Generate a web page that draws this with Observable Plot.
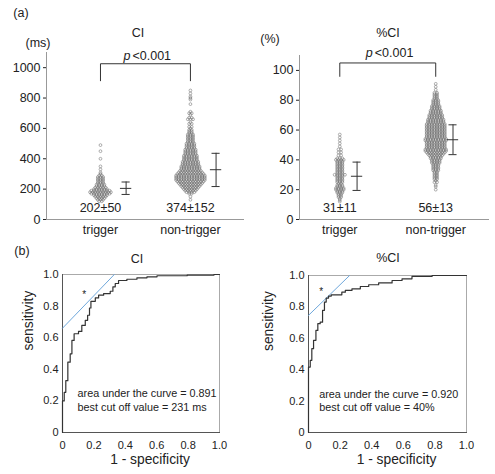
<!DOCTYPE html>
<html><head><meta charset="utf-8">
<script src="https://cdn.jsdelivr.net/npm/d3@7"></script>
<script src="https://cdn.jsdelivr.net/npm/@observablehq/plot@0.6"></script>
<style>
body{margin:0;background:#fff;}
#fig{position:relative;width:495px;height:474px;overflow:hidden;background:#fff;font-family:"Liberation Sans",Arial,sans-serif;color:#222;}
#fig svg{position:absolute;}
.lbl{position:absolute;font-size:12px;line-height:1;white-space:nowrap;transform:translate(-50%,-50%);}
</style></head><body><div id="fig"></div>
<script>
// ---------- data ----------
const groups = ["trigger", "non-trigger"];

// CI (ms): binned values and number of patients per bin
const ciTrigVals   = [490,450,400,350,330,310,300,290,280,270,260,250,240,230,220,210,200,190,180,170,160,150,140,130,120];
const ciTrigCounts = [1,1,1,1,1,1,1,2,3,3,3,3,3,4,4,5,6,8,9,8,6,5,4,3,2];
const ciNonVals    = [850,830,810,800,790,760,710,700,690,670,660,640,630,610,600,590,580,570,560,550,540,530,520,510,500,490,480,470,460,450,440,430,420,410,400,390,380,370,360,350,340,330,320,310,300,290,280,270,260,250,240,230,220,210,200,190,180,170,150,130];
const ciNonCounts  = [1,1,1,1,1,1,1,2,1,2,3,1,2,2,1,2,2,2,3,3,3,3,3,3,4,4,4,4,5,5,5,5,6,6,6,6,7,7,7,8,8,8,9,10,11,12,12,12,12,11,10,9,8,7,6,5,4,2,1,1];

// %CI (%)
const pctTrigVals   = [57,55,53,51,49,47,45,43,41,40,39,38,37,36,35,34,33,32,31,30,29,28,27,26,25,24,23,22,21,20,19,18,17,16,15,14,13,12];
const pctTrigCounts = [1,1,1,1,1,2,2,2,3,4,3,3,3,3,3,3,3,3,3,5,3,3,3,3,3,2,3,3,4,4,3,3,2,2,2,1,1,1];
const pctNonVals    = [91,89,87,85,84,83,82,81,80,79,78,77,76,75,74,73,72,71,70,69,68,67,66,65,64,63,62,61,60,59,58,57,56,55,54,53,52,51,50,49,48,47,46,45,44,43,42,41,40,39,38,37,36,35,34,33,32,31,30,29,28,27,26,25,23,22,20];
const pctNonCounts  = [1,1,1,2,2,2,2,2,3,3,3,3,4,4,4,5,5,5,6,6,6,7,7,7,8,8,8,8,8,8,8,8,8,8,9,9,8,8,8,8,8,9,9,8,7,6,5,5,4,4,4,3,3,3,3,3,2,2,2,2,2,2,1,2,1,1,1];

const ciMean = [202, 374], ciSD = [50, 152];
const pctMean = [31, 56], pctSD = [11, 13];
const ciBarLo = [165, 217], ciBarMid = [205, 328], ciBarHi = [247, 436];
const pctBarLo = [19.5, 43.5], pctBarMid = [29, 53.5], pctBarHi = [38.5, 63.5];
const ciTicks = [0, 200, 400, 600, 800, 1000];
const pctTicks = [0, 20, 40, 60, 80, 100];
const pText = "<0.001";

// ROC curves
const rocTicks = [0, 0.2, 0.4, 0.6, 0.8, 1.0];
const ciRocFpr = [0,0,0.011,0.021,0.034,0.049,0.06,0.074,0.102,0.123,0.145,0.16,0.172,0.181,0.209,0.23,0.262,0.304,0.321,0.336,0.357,0.41,0.474,0.538,0.602,0.794,0.964,1.0];
const ciRocTpr = [0,0.2,0.254,0.328,0.445,0.498,0.583,0.625,0.64,0.678,0.71,0.742,0.788,0.83,0.852,0.869,0.879,0.894,0.922,0.943,0.962,0.97,0.979,0.985,0.992,0.996,1.0,1.0];
const pctRocFpr = [0,0,0.011,0.021,0.032,0.047,0.059,0.074,0.089,0.101,0.112,0.127,0.144,0.211,0.233,0.275,0.328,0.381,0.444,0.529,0.592,0.655,0.782,1.0];
const pctRocTpr = [0,0.417,0.46,0.534,0.587,0.65,0.693,0.703,0.778,0.831,0.856,0.869,0.877,0.894,0.905,0.915,0.93,0.941,0.953,0.968,0.979,0.994,1.0,1.0];
const ciTangentFpr = [0, 0.33], ciTangentTpr = [0.66, 1.0];
const pctTangentFpr = [0, 0.26], pctTangentTpr = [0.746, 1.0];
const ciCutFpr = 0.138, ciCutTpr = 0.883;
const pctCutFpr = 0.08, pctCutTpr = 0.909;
const ciAUC = "0.891", ciCutoff = "231 ms";
const pctAUC = "0.920", pctCutoff = "40%";

// ---------- drawing ----------
const FONT = '"Liberation Sans", Arial, sans-serif';
const fig = document.getElementById("fig");
function place(el, left, top) {
  el.style.position = "absolute"; el.style.left = left + "px"; el.style.top = top + "px";
  el.style.background = "transparent"; el.style.maxWidth = "none";
  fig.appendChild(el);
}
function label(text, x, y, opts = {}) {
  const d = document.createElement("div");
  d.className = "lbl"; d.textContent = text;
  d.style.left = x + "px"; d.style.top = y + "px";
  if (opts.size) d.style.fontSize = opts.size + "px";
  fig.appendChild(d);
}

function dotPanel(cfg) {
  const pts = [];
  groups.forEach((g, gi) => {
    cfg.vals[gi].forEach((v, j) => {
      const n = cfg.counts[gi][j];
      for (let i = 0; i < n; i++) pts.push({gi, v, slot: i - (n - 1) / 2});
    });
  });
  const bars = groups.map((g, gi) => ({gi, lo: cfg.lo[gi], mid: cfg.mid[gi], hi: cfg.hi[gi]}));
  const caps = bars.flatMap(b => [{gi: b.gi, y: b.lo, w: cfg.cap}, {gi: b.gi, y: b.hi, w: cfg.cap}, {gi: b.gi, y: b.mid, w: cfg.cap * 1.4}]);
  const summ = groups.map((g, gi) => ({gi, text: `${cfg.mean[gi]}±${cfg.sd[gi]}`}));
  const br = [{gi: 0, y: cfg.bFoot}, {gi: 0, y: cfg.bTop}, {gi: 1, y: cfg.bTop}, {gi: 1, y: cfg.bFoot}];
  const mid = [{gi: 0.5}];
  return Plot.plot({
    width: cfg.width, height: 241,
    marginLeft: cfg.marginLeft, marginRight: cfg.marginRight, marginTop: cfg.marginTop, marginBottom: 22,
    style: {fontFamily: FONT, fontSize: "12px", color: "#222", background: "transparent"},
    x: {domain: cfg.xDomain, axis: null},
    y: {domain: cfg.yDomain, axis: null},
    marks: [
      Plot.frame({anchor: "left", stroke: "#999"}),
      Plot.frame({anchor: "bottom", stroke: "#999"}),
      Plot.axisY({ticks: cfg.ticks, tickFormat: d => String(d), tickSize: 3, tickPadding: 3, fontSize: 12.5, label: null, color: "#222"}),
      Plot.axisX({ticks: [0, 1], tickFormat: i => groups[i], tickSize: 0, tickPadding: 6, fontSize: 12.5, label: null, color: "#222"}),
      Plot.dot(pts, {x: d => d.gi + d.slot * cfg.pitch, y: "v", r: 1.4, stroke: "#6e6e6e", strokeWidth: 0.55, fill: "none"}),
      Plot.ruleX(bars, {x: d => d.gi + cfg.barOff, y1: "lo", y2: "hi", stroke: "#333", strokeWidth: 1}),
      Plot.ruleY(caps, {y: "y", x1: d => d.gi + cfg.barOff - d.w, x2: d => d.gi + cfg.barOff + d.w, stroke: "#333", strokeWidth: 1}),
      Plot.text(summ, {x: "gi", text: "text", frameAnchor: "bottom", dy: -8, fontSize: 12.5, fill: "#222"}),
      Plot.line(br, {x: "gi", y: "y", stroke: "#333", strokeWidth: 1}),
      Plot.text(mid, {x: "gi", y: () => cfg.pY, text: () => "p", fontStyle: "italic", textAnchor: "end", dx: -15, fontSize: 12.5, fill: "#222"}),
      Plot.text(mid, {x: "gi", y: () => cfg.pY, text: () => pText, textAnchor: "start", dx: -13, fontSize: 12.5, fill: "#222"})
    ]
  });
}

function rocPanel(cfg) {
  const curve = cfg.fpr.map((f, i) => ({f, t: cfg.tpr[i]}));
  const tang = cfg.tf.map((f, i) => ({f, t: cfg.tt[i]}));
  const fmt = d => d === 0 ? "0" : d.toFixed(1);
  return Plot.plot({
    width: cfg.width, height: cfg.height,
    marginLeft: cfg.marginLeft, marginRight: 12, marginTop: 34, marginBottom: 42,
    style: {fontFamily: FONT, fontSize: "12px", color: "#222", background: "transparent"},
    x: {domain: [0, 1], axis: null},
    y: {domain: [0, 1], axis: null},
    marks: [
      Plot.axisX({ticks: rocTicks, tickFormat: fmt, tickSize: 0, tickPadding: 9, fontSize: 11, label: null, color: "#222"}),
      Plot.axisY({ticks: rocTicks, tickFormat: fmt, tickSize: 0, tickPadding: 4, fontSize: 11, label: null, color: "#222"}),
      Plot.frame({stroke: "#aaa"}),
      Plot.frame({anchor: "left", stroke: "#555"}),
      Plot.frame({anchor: "bottom", stroke: "#555"}),
      Plot.line(tang, {x: "f", y: "t", stroke: "#6fa8dc", strokeWidth: 1}),
      Plot.line(curve, {x: "f", y: "t", curve: "step-after", stroke: "#333", strokeWidth: 1.2}),
      Plot.text([0], {x: () => cfg.cutF, y: () => cfg.cutT, text: () => "*", fontSize: 10, dy: 2, fill: "#222"}),
      Plot.text([0], {x: () => cfg.textF, y: () => 0.244, text: () => `area under the curve = ${cfg.auc}`, textAnchor: "start", fontSize: 10.8, fill: "#222"}),
      Plot.text([0], {x: () => cfg.textF, y: () => 0.159, text: () => `best cut off value = ${cfg.cutoff}`, textAnchor: "start", fontSize: 10.8, fill: "#222"}),
      Plot.text(["1 - specificity"], {frameAnchor: "bottom", dy: 31, dx: 9, fontSize: 13.8, fill: "#222"}),
      Plot.text(["sensitivity"], {frameAnchor: "left", dx: -cfg.yLabOff, dy: -3, rotate: -90, fontSize: 13.8, fill: "#222"})
    ]
  });
}

place(dotPanel({
  vals: [ciTrigVals, ciNonVals], counts: [ciTrigCounts, ciNonCounts],
  mean: ciMean, sd: ciSD, lo: ciBarLo, mid: ciBarMid, hi: ciBarHi,
  ticks: ciTicks, yDomain: [0, 1100], xDomain: [-0.6, 1.59],
  width: 250, marginLeft: 46, marginRight: 7, marginTop: 52,
  pitch: 0.029, barOff: 0.285, cap: 0.045, bTop: 1026, bFoot: 914, pY: 1080
}), 0, 0);

place(dotPanel({
  vals: [pctTrigVals, pctNonVals], counts: [pctTrigCounts, pctNonCounts],
  mean: pctMean, sd: pctSD, lo: pctBarLo, mid: pctBarMid, hi: pctBarHi,
  ticks: pctTicks, yDomain: [0, 110], xDomain: [-0.42, 1.55],
  width: 250, marginLeft: 54, marginRight: 7, marginTop: 55,
  pitch: 0.027, barOff: 0.18, cap: 0.042, bTop: 105, bFoot: 96, pY: 111.5
}), 245, 0);

place(rocPanel({
  fpr: ciRocFpr, tpr: ciRocTpr, tf: ciTangentFpr, tt: ciTangentTpr,
  cutF: ciCutFpr, cutT: ciCutTpr, auc: ciAUC, cutoff: ciCutoff, textF: 0.096,
  width: 231, height: 234, marginLeft: 62, yLabOff: 34
}), 0, 240);

place(rocPanel({
  fpr: pctRocFpr, tpr: pctRocTpr, tf: pctTangentFpr, tt: pctTangentTpr,
  cutF: pctCutFpr, cutT: pctCutTpr, auc: pctAUC, cutoff: pctCutoff, textF: 0.068,
  width: 233, height: 233, marginLeft: 63, yLabOff: 40
}), 245, 241);

label("(a)", 21, 13, {size: 12.5});
label("CI", 138, 33, {size: 12.5});
label("(ms)", 38, 43, {size: 12.5});
label("%CI", 388, 33, {size: 12.5});
label("(%)", 270, 39, {size: 12.5});
label("(b)", 22, 251, {size: 12.5});
label("CI", 137, 259, {size: 12.5});
label("%CI", 388, 258, {size: 12.5});
</script></body></html>
